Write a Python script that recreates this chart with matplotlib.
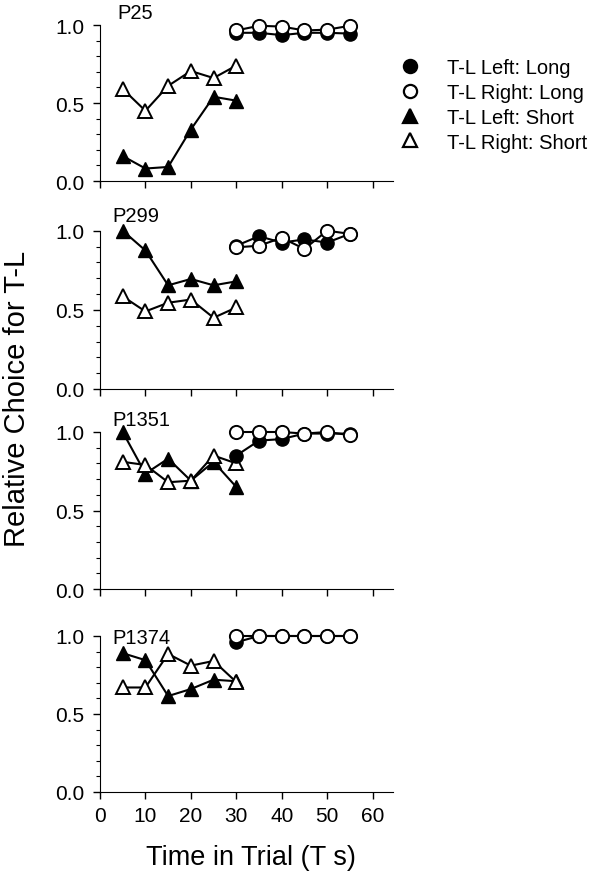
import matplotlib
matplotlib.use('Agg')
import matplotlib.pyplot as plt
import numpy as np

plt.rcParams['font.family'] = ['Liberation Sans', 'DejaVu Sans']

# time in trial (s)
t_short = np.array([5, 10, 15, 20, 25, 30])
t_long = np.array([30, 35, 40, 45, 50, 55])

birds = ['P25', 'P299', 'P1351', 'P1374']

left_long = [
	[0.95, 0.95, 0.935, 0.95, 0.95, 0.945],
	[0.905, 0.965, 0.925, 0.945, 0.925, 0.98],
	[0.85, 0.945, 0.955, 0.99, 0.99, 0.99],
	[0.96, 1.0, 1.0, 1.0, 1.0, 1.0],
]
right_long = [
	[0.965, 0.995, 0.99, 0.965, 0.97, 0.995],
	[0.895, 0.905, 0.955, 0.885, 1.0, 0.98],
	[1.0, 1.0, 1.0, 0.99, 1.0, 0.98],
	[1.0, 1.0, 1.0, 1.0, 1.0, 1.0],
]
left_short = [
	[0.16, 0.08, 0.09, 0.33, 0.54, 0.515],
	[1.0, 0.875, 0.655, 0.695, 0.655, 0.68],
	[1.0, 0.735, 0.83, 0.69, 0.81, 0.65],
	[0.89, 0.845, 0.615, 0.66, 0.72, 0.71],
]
right_short = [
	[0.59, 0.45, 0.61, 0.705, 0.66, 0.74],
	[0.585, 0.49, 0.545, 0.565, 0.45, 0.515],
	[0.81, 0.79, 0.68, 0.69, 0.85, 0.80],
	[0.67, 0.67, 0.885, 0.81, 0.84, 0.705],
]

legend_labels = ['T-L Left: Long', 'T-L Right: Long', 'T-L Left: Short', 'T-L Right: Short']

W, H = 600., 878.
fig = plt.figure(figsize=(6, 8.78), dpi=100)

# panel tops / bottoms in pixels
tops = [26, 231.7, 433, 637]
bottoms = [182, 390, 590, 793]
label_pos = [(0.058, 1.083), (0.041, 1.094), (0.041, 1.077), (0.041, 0.99)]

line_kw = dict(color='black', lw=1.5, clip_on=False, zorder=3)

axes = []
for i in range(4):
	ax = fig.add_axes([100 / W, 1 - bottoms[i] / H, 293 / W, (bottoms[i] - tops[i]) / H])
	axes.append(ax)

	h_ls, = ax.plot(t_short, left_short[i], marker='^', ms=9.5, mfc='black', mec='black', **line_kw)
	h_rs, = ax.plot(t_short, right_short[i], marker='^', ms=9.5, mfc='white', mec='black', mew=1.4, **line_kw)
	h_ll, = ax.plot(t_long, left_long[i], marker='o', ms=9.5, mfc='black', mec='black', **line_kw)
	h_rl, = ax.plot(t_long, right_long[i], marker='o', ms=9.5, mfc='white', mec='black', mew=1.4, **line_kw)

	ax.set_xlim(0, 64.5)
	ax.set_ylim(0, 1.0)
	ax.set_xticks(np.arange(0, 61, 10))
	ax.set_yticks([0.0, 0.5, 1.0])
	ax.set_yticklabels(['0.0', '0.5', '1.0'])
	ax.set_yticks(np.arange(0, 1.01, 0.1), minor=True)
	ax.spines['top'].set_visible(False)
	ax.spines['right'].set_visible(False)
	ax.tick_params(axis='both', which='major', direction='out', length=5, width=1, labelsize=15)
	ax.tick_params(axis='y', which='major', pad=6)
	ax.tick_params(axis='y', which='minor', direction='out', length=3, width=0.8)
	ax.tick_params(axis='x', which='major', pad=5)
	if i < 3:
		ax.tick_params(axis='x', labelbottom=False)

	ax.text(label_pos[i][0], label_pos[i][1], birds[i], transform=ax.transAxes,
			fontsize=14.5, va='center', ha='left')

	if i == 0:
		handles = [h_ll, h_rl, h_ls, h_rs]

# legend shows markers only
leg_handles = []
for h in handles:
	lh, = axes[0].plot([], [], ls='none', marker=h.get_marker(), ms=h.get_markersize(),
					  mfc=h.get_markerfacecolor(), mec='black', mew=1.6)
	leg_handles.append(lh)
fig.legend(leg_handles, legend_labels, loc='upper left', bbox_to_anchor=(400 / W, 1 - 59 / H),
		   frameon=False, fontsize=14.5, handlelength=1.0, handletextpad=1.35,
		   labelspacing=0.29, borderpad=0, borderaxespad=0)

fig.text(17 / W, 1 - 399 / H, 'Relative Choice for T-L', rotation=90, fontsize=21,
		 va='center', ha='center')
fig.text(251 / W, 1 - 858 / H, 'Time in Trial (T s)', fontsize=19.5, va='center', ha='center')

fig.savefig('out.png', dpi=100)
